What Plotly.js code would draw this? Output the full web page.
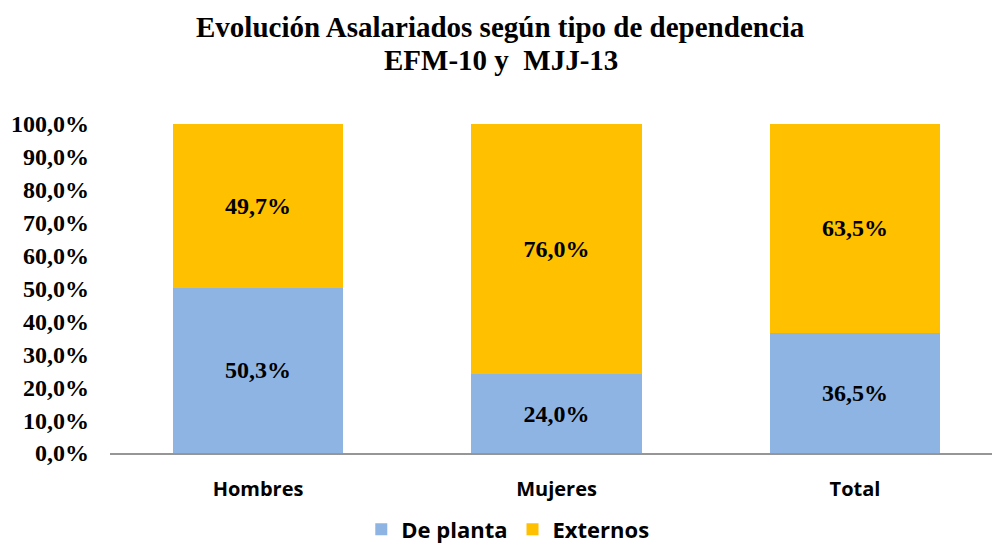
<!DOCTYPE html>
<html>
<head>
<meta charset="utf-8">
<script src="https://cdn.plot.ly/plotly-3.0.1.min.js"></script>
<style>html,body{margin:0;padding:0;background:#fff;}#chart{width:992px;height:544px;}</style>
</head>
<body>
<div id="chart"></div>
<script>
const categories = ["Hombres", "Mujeres", "Total"];
const dePlanta = [50.3, 24.0, 36.5];
const externos = [49.7, 76.0, 63.5];
const seriesNames = ["De planta", "Externos"];
const titleLines = ["Evolución Asalariados según tipo de dependencia", "EFM-10 y  MJJ-13"];
const yTickVals = [0, 10, 20, 30, 40, 50, 60, 70, 80, 90, 100];

function fmt(v){ return v.toFixed(1).replace(".", ",") + "%"; }

const serif = "Liberation Serif, Times New Roman, serif";
const sans = "Open Sans, Liberation Sans, sans-serif";
const labelFont = {family: serif, size: 24, color: "#000", weight: "bold"};

const traces = [
  {
    type: "bar", name: seriesNames[0], x: categories, y: dePlanta,
    marker: {color: "#8EB4E3"}, width: 0.57,
    text: dePlanta.map(fmt), textposition: "inside", insidetextanchor: "middle",
    textfont: labelFont, hoverinfo: "skip"
  },
  {
    type: "bar", name: seriesNames[1], x: categories, y: externos,
    marker: {color: "#FFC000"}, width: 0.57,
    text: externos.map(fmt), textposition: "inside", insidetextanchor: "middle",
    textfont: labelFont, hoverinfo: "skip"
  }
];

const titleFont = {family: serif, size: 29, color: "#000", weight: "bold"};

const layout = {
  width: 992, height: 544,
  margin: {l: 110, r: 0, t: 124, b: 91, autoexpand: false},
  paper_bgcolor: "#fff", plot_bgcolor: "#fff",
  barmode: "stack",
  annotations: [
    {text: titleLines[0], xref: "paper", yref: "paper", x: 0.443, y: 1.2948,
     xanchor: "center", yanchor: "middle", showarrow: false, font: titleFont},
    {text: titleLines[1], xref: "paper", yref: "paper", x: 0.443, y: 1.1945,
     xanchor: "center", yanchor: "middle", showarrow: false, font: titleFont}
  ],
  xaxis: {
    type: "category", range: [-0.496, 2.459],
    showline: true, linecolor: "#969696", linewidth: 2,
    showgrid: false, zeroline: false, ticks: "",
    tickfont: {family: sans, size: 20, color: "#000", weight: "bold"},
    ticklabelstandoff: 17
  },
  yaxis: {
    range: [0, 100], tickvals: yTickVals, ticktext: yTickVals.map(fmt),
    showline: false, showgrid: false, zeroline: false, ticks: "",
    tickfont: {family: serif, size: 24, color: "#000", weight: "bold"},
    ticklabelstandoff: 20
  },
  showlegend: true,
  legend: {
    orientation: "h", x: 0.451, xanchor: "center", y: -0.232, yanchor: "middle",
    font: {family: sans, size: 22, color: "#000", weight: "bold"},
    itemwidth: 30, traceorder: "normal"
  }
};

Plotly.newPlot("chart", traces, layout, {staticPlot: true, displayModeBar: false});
</script>
</body>
</html>
